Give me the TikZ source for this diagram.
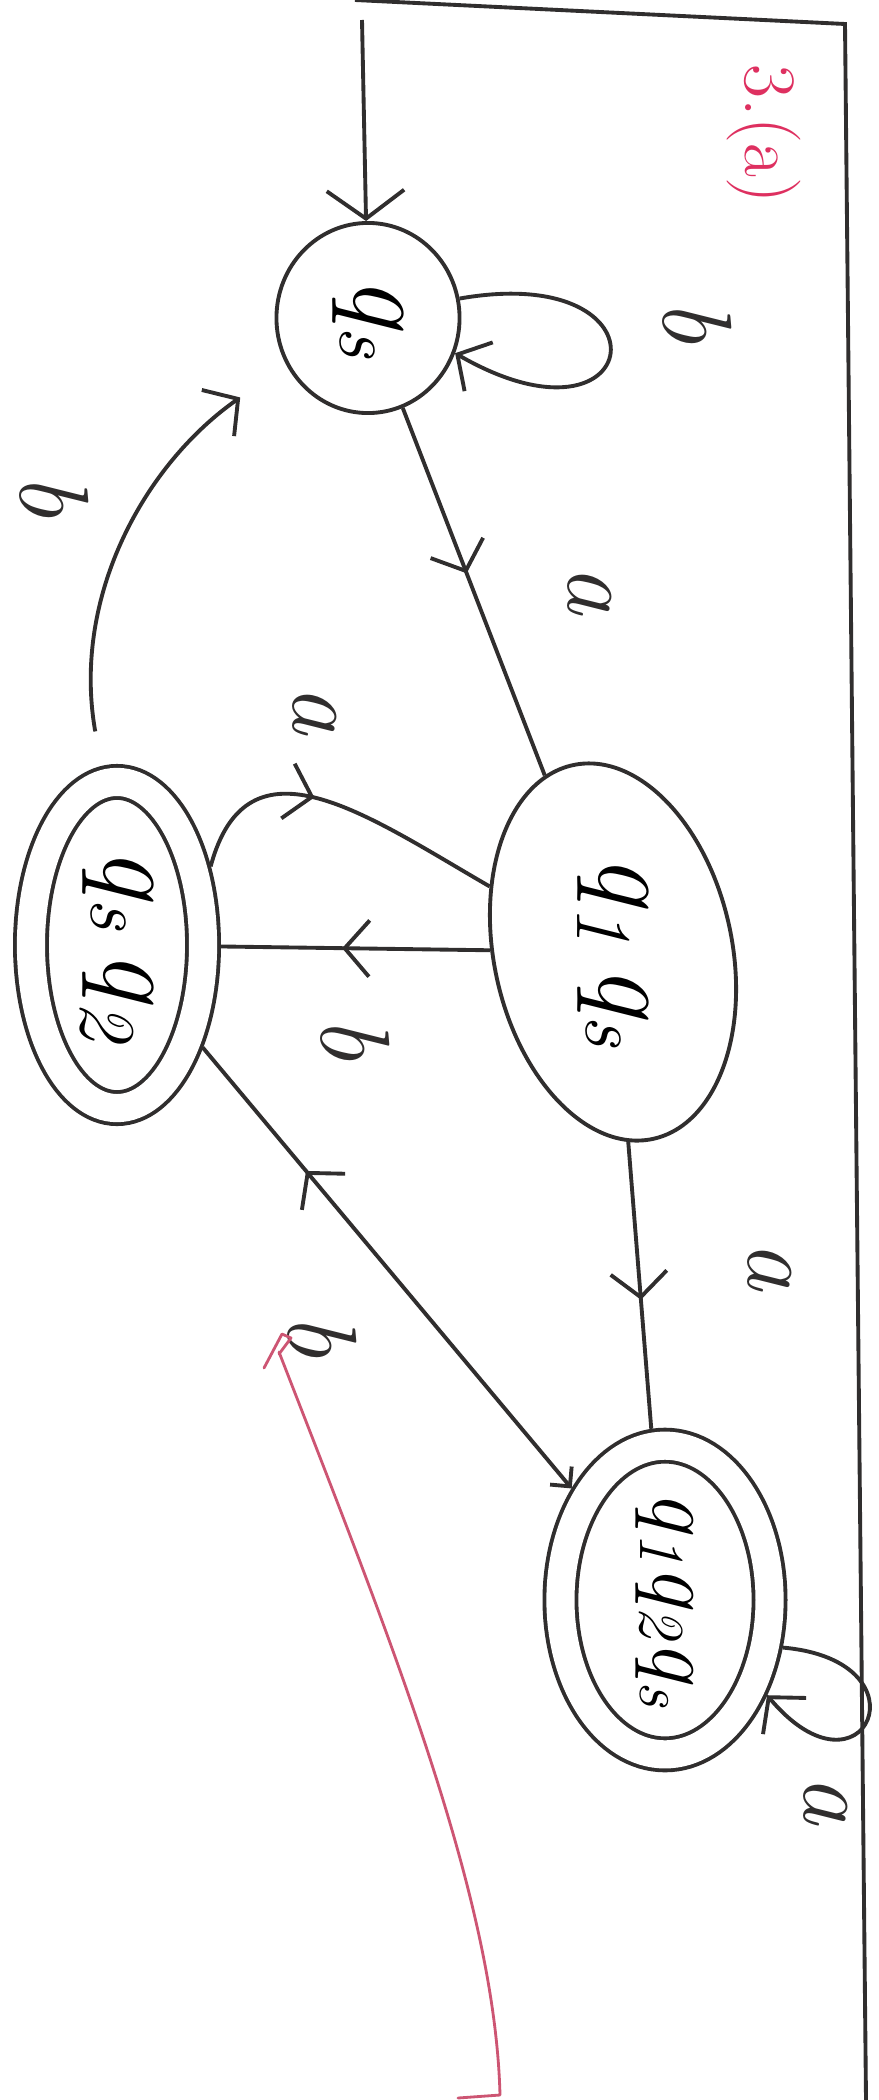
\documentclass[tikz,border=0pt]{standalone}
\usetikzlibrary{shapes.geometric, arrows.meta, decorations.markings}
\definecolor{pencil}{RGB}{48,46,46}
\definecolor{penred}{RGB}{222,48,96}
\definecolor{checkred}{RGB}{205,85,115}
\newcommand{\qq}[1]{q\textsubscript{#1}}

\begin{document}
\begin{tikzpicture}[
    x=0.01cm, y=0.01cm,
    line width=1.1pt,
    draw=pencil,
    >={Straight Barb[length=7pt, width=16pt]},
    state/.style={draw=pencil, ellipse, inner sep=0pt, line width=1.1pt,
        font=\fontsize{32}{36}\selectfont\itshape},
    accept/.style={state, double, double distance=8pt, outer sep=5.1pt},
    edge/.style={draw=pencil, line width=1.1pt},
    arrowat/.style={postaction={decorate},
        decoration={markings, mark=at position #1 with {\arrow{>}}}},
    lbl/.style={rotate=-90, inner sep=0pt, text=pencil,
        font=\fontsize{28}{32}\selectfont\itshape},
    check/.style={draw=checkred, line width=0.8pt, line cap=round, line join=round}
]
\useasboundingbox (0,0) rectangle (879,-2100);
\fill[white] (0,0) rectangle (879,-2100);

% brzeg kartki
\draw[edge] (355,0) -- (845,-24) -- (866,-2100);

\node[lbl, text=penred, font=\fontsize{21}{24}\selectfont] (title) at (764,-134) {3.(a)};

\node[state, minimum width=1.83cm, minimum height=1.90cm] (qs) at (368,-318) {\rotatebox{-90}{\qq{s}}};
\node[state, rotate=12, minimum width=2.38cm, minimum height=3.82cm] (q1qs) at (613,-952) {\rotatebox{-102}{\qq{1}\,\qq{s}}};
\node[accept, minimum width=1.72cm, minimum height=3.26cm] (qsq2) at (117,-945) {\rotatebox{-90}{\qq{s}\,\qq{2}}};
\node[accept, minimum width=2.09cm, minimum height=2.97cm, font=\fontsize{26}{30}\selectfont\itshape] (qf) at (665,-1600) {\rotatebox{-90}{\qq{1}\qq{2}\qq{s}}};

\coordinate (start) at (362,-20);
\draw[edge, ->, >={Straight Barb[length=8pt, width=22pt]}] (start) -- (qs);   % <- start
\draw[edge, ->] (qs.12) to[out=10, in=-30, distance=2.2cm] (qs.-22);   % <- petla
\draw[edge, arrowat=0.45] (qs) -- (q1qs);
\draw[edge, arrowat=0.42] (qsq2.40) to[out=75, in=150, looseness=1.3] (q1qs.140);
\draw[edge, arrowat=0.55] (q1qs) -- (qsq2);
\draw[edge, arrowat=0.55] (q1qs) -- (qf);
\draw[edge, arrowat=0.72, {Straight Barb[length=4pt, width=8pt]}-] (qf) -- (qsq2);
\draw[edge, ->] (qf.-22) to[out=-5, in=-50, distance=1.5cm] (qf.-43);   % <- petla
\draw[edge, ->, shorten <=10pt, shorten >=16pt] (qsq2.95) to[out=100, in=215] (qs.210);

\node[lbl] (lb0) at (697,-322) {b};
\node[lbl] (la1) at (590,-590) {a};
\node[lbl] (la2) at (315,-710) {a};
\node[lbl] (lb2) at (355,-1039) {b};
\node[lbl] (la3) at (770,-1266) {a};
\node[lbl] (lb3) at (322,-1336) {b};
\node[lbl] (la4) at (826,-1800) {a};
\node[lbl] (lb4) at (54,-496) {b};

% czerwony znaczek
\draw[check] (264,-1368) -- (282,-1334) -- (291,-1338) -- (279,-1354)
    (279,-1352) .. controls (395,-1650) and (495,-1900) .. (500,-2095) -- (458,-2098);
\end{tikzpicture}
\end{document}
